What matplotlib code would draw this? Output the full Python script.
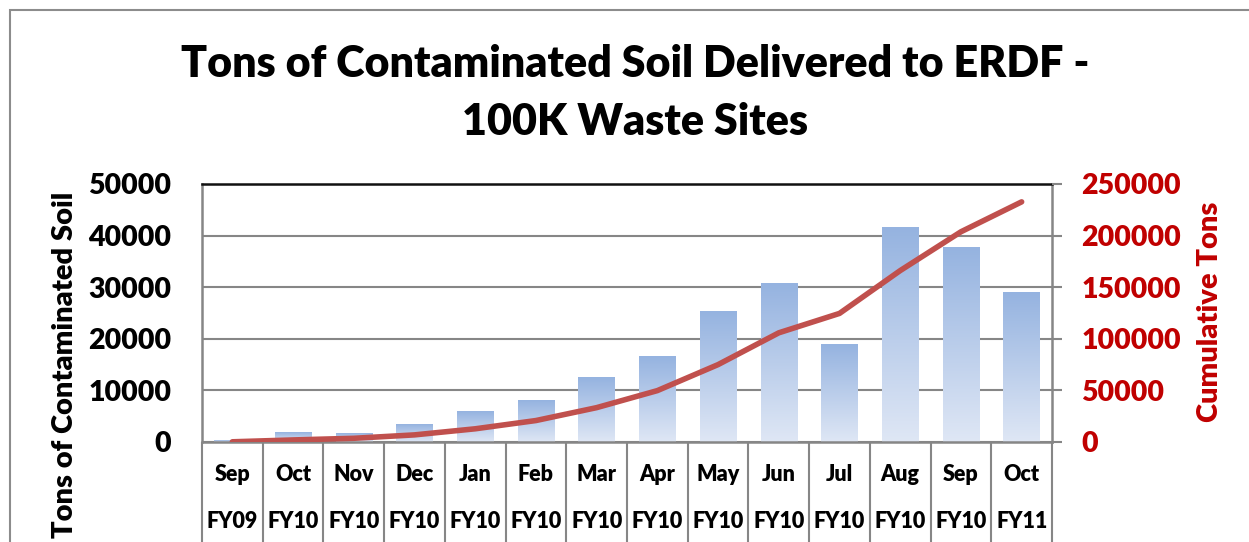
import numpy as np
import matplotlib
matplotlib.use("Agg")
from matplotlib import pyplot as plt
from matplotlib.transforms import blended_transform_factory

# データ
months = ["Sep", "Oct", "Nov", "Dec", "Jan", "Feb", "Mar", "Apr",
          "May", "Jun", "Jul", "Aug", "Sep", "Oct"]
fiscal_years = ["FY09", "FY10", "FY10", "FY10", "FY10", "FY10", "FY10", "FY10",
                "FY10", "FY10", "FY10", "FY10", "FY10", "FY11"]
monthly_tons = [200, 1800, 1600, 3300, 5900, 8000, 12500, 16500,
                25200, 30800, 18800, 41500, 37600, 29000]
cumulative_tons = [200, 2000, 3600, 6900, 12800, 20800, 33300, 49800,
                   75000, 105800, 124600, 166100, 203700, 232700]
left_ticks = [0, 10000, 20000, 30000, 40000, 50000]
right_ticks = [0, 50000, 100000, 150000, 200000, 250000]

plt.rcParams['font.family'] = ['Lato', 'DejaVu Sans']
plt.rcParams['font.weight'] = 'heavy'

W, H = 1249, 542
fig = plt.figure(figsize=(W / 100, H / 100), dpi=100)
ax = fig.add_axes([202 / W, 1 - 442 / H, 850 / W, 258 / H])

x = np.arange(len(months))
bars = ax.bar(x, monthly_tons, width=0.6, color="none", zorder=2)
# バーをグラデーションで塗る（上が濃い青、下が淡い青）
grad = np.linspace(0, 1, 256).reshape(-1, 1)
cmap = matplotlib.colors.LinearSegmentedColormap.from_list(
    "bar", ["#dfe7f5", "#95b3e0"])
for b in bars:
    ax.imshow(grad, cmap=cmap, origin="lower", aspect="auto", zorder=2,
              extent=(b.get_x(), b.get_x() + b.get_width(), 0, b.get_height()))

ax.set_xlim(-0.5, len(months) - 0.5)
ax.set_ylim(0, 50000)
ax.set_yticks(left_ticks)
ax.set_yticklabels([str(t) for t in left_ticks], fontsize=20.5)
ax.tick_params(axis="y", length=0, pad=22)
ax.set_xticks([])
ax.grid(axis="y", color="#868686", linewidth=1.5, zorder=0)
ax.set_axisbelow(True)
ax.spines["top"].set_color("#111111")
ax.spines["top"].set_linewidth(1.8)
for s in ["left", "right", "bottom"]:
    ax.spines[s].set_color("#868686")
    ax.spines[s].set_linewidth(1.8)

# 累積ライン（右軸）
ax2 = ax.twinx()
ax2.plot(x, cumulative_tons, color="#c0504d", linewidth=4,
         solid_capstyle="round", zorder=3)
ax2.set_ylim(0, 250000)
ax2.set_yticks(right_ticks)
ax2.set_yticklabels([str(t) for t in right_ticks], fontsize=20.5, color="#c00000")
ax2.tick_params(axis="y", direction="out", length=7, width=1.5,
                color="#868686", pad=14)
for s in ax2.spines.values():
    s.set_visible(False)

# 2段のカテゴリラベルと区切り線
trans = blended_transform_factory(ax.transData, ax.transAxes)
for i, (m, fy) in enumerate(zip(months, fiscal_years)):
    ax.text(i, -0.125, m, transform=trans, ha="center", va="center", fontsize=15.5)
    ax.text(i, -0.308, fy, transform=trans, ha="center", va="center", fontsize=15.5)
ax.vlines(np.arange(len(months) + 1) - 0.5, -0.4, 0, transform=trans,
          colors="#868686", linewidth=1.5, clip_on=False)

# 軸タイトル
fig.text(65 / W, 1 - 365 / H, "Tons of Contaminated Soil", rotation=90,
         ha="center", va="center", fontsize=21)
fig.text(1210 / W, 1 - 312 / H, "Cumulative Tons", rotation=90,
         ha="center", va="center", fontsize=21, color="#c00000")

# グラフタイトル
fig.text(635 / W, 1 - 93 / H, "Tons of Contaminated Soil Delivered to ERDF -\n100K Waste Sites",
         ha="center", va="center", fontsize=31, linespacing=1.55)

# 外枠
fig.add_artist(plt.Rectangle((10 / W, -0.2), 1.2, 1.2 - 10 / H + 0.0,
                             transform=fig.transFigure, fill=False,
                             edgecolor="#8c8c8c", linewidth=1.5))

fig.savefig("out.png", dpi=100)
